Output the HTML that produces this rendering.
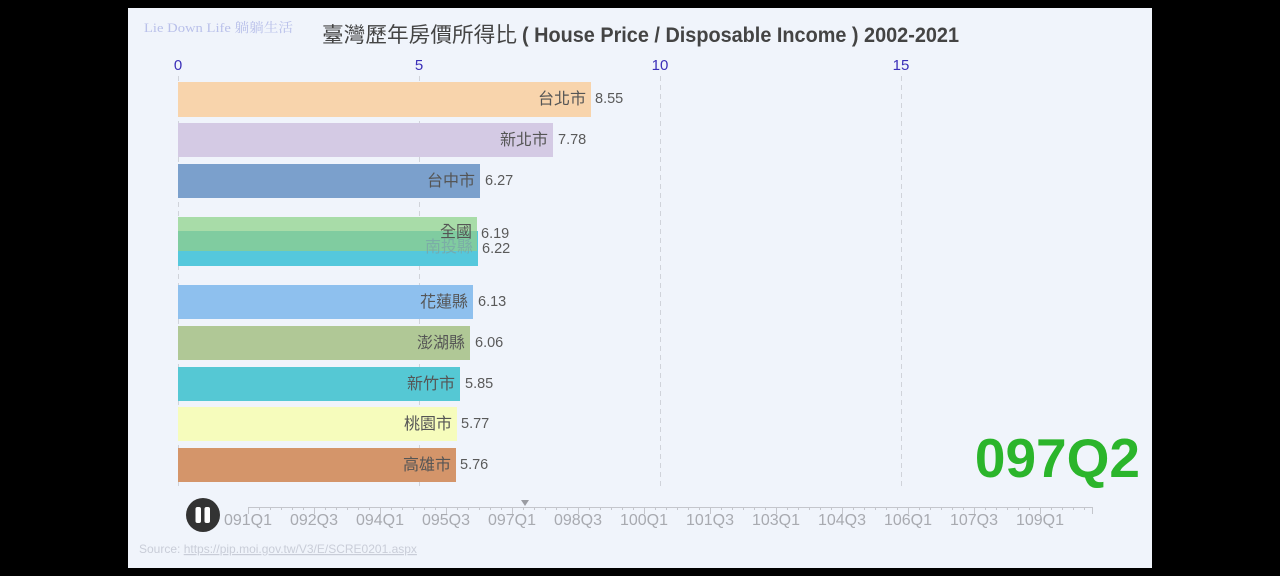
<!DOCTYPE html>
<html><head><meta charset="utf-8"><style>
html,body{margin:0;padding:0;background:#000;}
svg{display:block;}
text{font-family:"Liberation Sans","Noto Sans CJK TC",sans-serif;}
</style></head><body>
<svg width="1280" height="576" viewBox="0 0 1280 576" xmlns="http://www.w3.org/2000/svg">
<rect x="0" y="0" width="1280" height="576" fill="#000"/>
<rect x="128" y="8" width="1024" height="560" fill="#f0f4fb"/>

<text x="144" y="32" font-size="13" fill="#b9c0ea" textLength="149" lengthAdjust="spacingAndGlyphs" style="font-family:'Liberation Serif','Noto Serif CJK SC',serif">Lie Down Life 躺躺生活</text>

<text x="322" y="42" font-size="21" fill="#444" textLength="195" lengthAdjust="spacingAndGlyphs">臺灣歷年房價所得比</text>
<text x="522" y="42" font-size="21" font-weight="bold" fill="#444" textLength="437" lengthAdjust="spacingAndGlyphs">( House Price / Disposable Income ) 2002-2021</text>

<g font-size="15" fill="#3b2fb8" text-anchor="middle">
<text x="178" y="70">0</text>
<text x="419" y="70">5</text>
<text x="660" y="70">10</text>
<text x="901" y="70">15</text>
</g>

<g stroke="#d0d3da" stroke-width="1" stroke-dasharray="5,4">
<line x1="178.5" y1="76" x2="178.5" y2="486"/>
<line x1="419.5" y1="76" x2="419.5" y2="486"/>
<line x1="660.5" y1="76" x2="660.5" y2="486"/>
<line x1="901.5" y1="76" x2="901.5" y2="486"/>
</g>

<!-- bars -->
<rect x="178" y="82" width="413" height="35" fill="#f8d4ac"/>
<rect x="178" y="123" width="375" height="34" fill="#d4cae4"/>
<rect x="178" y="164" width="302" height="34" fill="#7ba0cc"/>
<rect x="178" y="231" width="300" height="35" fill="#55c8dc"/>
<rect x="178" y="217" width="299" height="14" fill="#a8dca8"/>
<rect x="178" y="231" width="299" height="20" fill="#80cca0"/>
<rect x="178" y="285" width="295" height="34" fill="#8ec0ee"/>
<rect x="178" y="326" width="292" height="34" fill="#b0c896"/>
<rect x="178" y="367" width="282" height="34" fill="#55c8d4"/>
<rect x="178" y="407" width="279" height="34" fill="#f6fcbc"/>
<rect x="178" y="448" width="278" height="34" fill="#d4956a"/>

<g font-size="16" fill="#555" text-anchor="end">
<text x="586" y="104">台北市</text>
<text x="548" y="145">新北市</text>
<text x="475" y="186">台中市</text>
<text x="472" y="237">全國</text>
<text x="473" y="252" fill="#7aa6a8" opacity="0.8">南投縣</text>
<text x="468" y="307">花蓮縣</text>
<text x="465" y="348">澎湖縣</text>
<text x="455" y="389">新竹市</text>
<text x="452" y="429">桃園市</text>
<text x="451" y="470">高雄市</text>
</g>
<g font-size="14.5" fill="#5a5a5a">
<text x="595" y="103">8.55</text>
<text x="558" y="144">7.78</text>
<text x="485" y="185">6.27</text>
<text x="481" y="238">6.19</text>
<text x="482" y="253">6.22</text>
<text x="478" y="306">6.13</text>
<text x="475" y="347">6.06</text>
<text x="465" y="388">5.85</text>
<text x="461" y="428">5.77</text>
<text x="460" y="469">5.76</text>
</g>

<text x="1140" y="477" text-anchor="end" font-size="55" font-weight="bold" fill="#2bb52b">097Q2</text>

<!-- timeline -->
<line x1="248" y1="507.5" x2="1093" y2="507.5" stroke="#c4c6cc" stroke-width="1"/>
<g stroke="#c4c6cc" stroke-width="1">
<line x1="248.5" y1="507" x2="248.5" y2="514"/><line x1="259.5" y1="507" x2="259.5" y2="510"/><line x1="270.5" y1="507" x2="270.5" y2="510"/><line x1="281.5" y1="507" x2="281.5" y2="510"/><line x1="292.5" y1="507" x2="292.5" y2="510"/><line x1="303.5" y1="507" x2="303.5" y2="510"/>
<line x1="314.5" y1="507" x2="314.5" y2="514"/><line x1="325.5" y1="507" x2="325.5" y2="510"/><line x1="336.5" y1="507" x2="336.5" y2="510"/><line x1="347.5" y1="507" x2="347.5" y2="510"/><line x1="358.5" y1="507" x2="358.5" y2="510"/><line x1="369.5" y1="507" x2="369.5" y2="510"/>
<line x1="380.5" y1="507" x2="380.5" y2="514"/><line x1="391.5" y1="507" x2="391.5" y2="510"/><line x1="402.5" y1="507" x2="402.5" y2="510"/><line x1="413.5" y1="507" x2="413.5" y2="510"/><line x1="424.5" y1="507" x2="424.5" y2="510"/><line x1="435.5" y1="507" x2="435.5" y2="510"/>
<line x1="446.5" y1="507" x2="446.5" y2="514"/><line x1="457.5" y1="507" x2="457.5" y2="510"/><line x1="468.5" y1="507" x2="468.5" y2="510"/><line x1="479.5" y1="507" x2="479.5" y2="510"/><line x1="490.5" y1="507" x2="490.5" y2="510"/><line x1="501.5" y1="507" x2="501.5" y2="510"/>
<line x1="512.5" y1="507" x2="512.5" y2="514"/><line x1="523.5" y1="507" x2="523.5" y2="510"/><line x1="534.5" y1="507" x2="534.5" y2="510"/><line x1="545.5" y1="507" x2="545.5" y2="510"/><line x1="556.5" y1="507" x2="556.5" y2="510"/><line x1="567.5" y1="507" x2="567.5" y2="510"/>
<line x1="578.5" y1="507" x2="578.5" y2="514"/><line x1="589.5" y1="507" x2="589.5" y2="510"/><line x1="600.5" y1="507" x2="600.5" y2="510"/><line x1="611.5" y1="507" x2="611.5" y2="510"/><line x1="622.5" y1="507" x2="622.5" y2="510"/><line x1="633.5" y1="507" x2="633.5" y2="510"/>
<line x1="644.5" y1="507" x2="644.5" y2="514"/><line x1="655.5" y1="507" x2="655.5" y2="510"/><line x1="666.5" y1="507" x2="666.5" y2="510"/><line x1="677.5" y1="507" x2="677.5" y2="510"/><line x1="688.5" y1="507" x2="688.5" y2="510"/><line x1="699.5" y1="507" x2="699.5" y2="510"/>
<line x1="710.5" y1="507" x2="710.5" y2="514"/><line x1="721.5" y1="507" x2="721.5" y2="510"/><line x1="732.5" y1="507" x2="732.5" y2="510"/><line x1="743.5" y1="507" x2="743.5" y2="510"/><line x1="754.5" y1="507" x2="754.5" y2="510"/><line x1="765.5" y1="507" x2="765.5" y2="510"/>
<line x1="776.5" y1="507" x2="776.5" y2="514"/><line x1="787.5" y1="507" x2="787.5" y2="510"/><line x1="798.5" y1="507" x2="798.5" y2="510"/><line x1="809.5" y1="507" x2="809.5" y2="510"/><line x1="820.5" y1="507" x2="820.5" y2="510"/><line x1="831.5" y1="507" x2="831.5" y2="510"/>
<line x1="842.5" y1="507" x2="842.5" y2="514"/><line x1="853.5" y1="507" x2="853.5" y2="510"/><line x1="864.5" y1="507" x2="864.5" y2="510"/><line x1="875.5" y1="507" x2="875.5" y2="510"/><line x1="886.5" y1="507" x2="886.5" y2="510"/><line x1="897.5" y1="507" x2="897.5" y2="510"/>
<line x1="908.5" y1="507" x2="908.5" y2="514"/><line x1="919.5" y1="507" x2="919.5" y2="510"/><line x1="930.5" y1="507" x2="930.5" y2="510"/><line x1="941.5" y1="507" x2="941.5" y2="510"/><line x1="952.5" y1="507" x2="952.5" y2="510"/><line x1="963.5" y1="507" x2="963.5" y2="510"/>
<line x1="974.5" y1="507" x2="974.5" y2="514"/><line x1="985.5" y1="507" x2="985.5" y2="510"/><line x1="996.5" y1="507" x2="996.5" y2="510"/><line x1="1007.5" y1="507" x2="1007.5" y2="510"/><line x1="1018.5" y1="507" x2="1018.5" y2="510"/><line x1="1029.5" y1="507" x2="1029.5" y2="510"/>
<line x1="1040.5" y1="507" x2="1040.5" y2="514"/><line x1="1051.5" y1="507" x2="1051.5" y2="510"/><line x1="1062.5" y1="507" x2="1062.5" y2="510"/><line x1="1073.5" y1="507" x2="1073.5" y2="510"/><line x1="1084.5" y1="507" x2="1084.5" y2="510"/>
<line x1="1092.5" y1="507" x2="1092.5" y2="514"/>
</g>
<polygon points="521,500 529,500 525,506" fill="#9a9ca2"/>

<g font-size="16" fill="#a8aab0" text-anchor="middle">
<text x="248" y="525">091Q1</text>
<text x="314" y="525">092Q3</text>
<text x="380" y="525">094Q1</text>
<text x="446" y="525">095Q3</text>
<text x="512" y="525">097Q1</text>
<text x="578" y="525">098Q3</text>
<text x="644" y="525">100Q1</text>
<text x="710" y="525">101Q3</text>
<text x="776" y="525">103Q1</text>
<text x="842" y="525">104Q3</text>
<text x="908" y="525">106Q1</text>
<text x="974" y="525">107Q3</text>
<text x="1040" y="525">109Q1</text>
</g>

<circle cx="203" cy="515" r="17" fill="#333"/>
<rect x="195.5" y="507" width="5.5" height="16" rx="2" fill="#fff"/>
<rect x="204.5" y="507" width="5.5" height="16" rx="2" fill="#fff"/>

<text x="139" y="553" font-size="12" fill="#c9cdd8">Source: <tspan text-decoration="underline">https://pip.moi.gov.tw/V3/E/SCRE0201.aspx</tspan></text>
</svg>
</body></html>
